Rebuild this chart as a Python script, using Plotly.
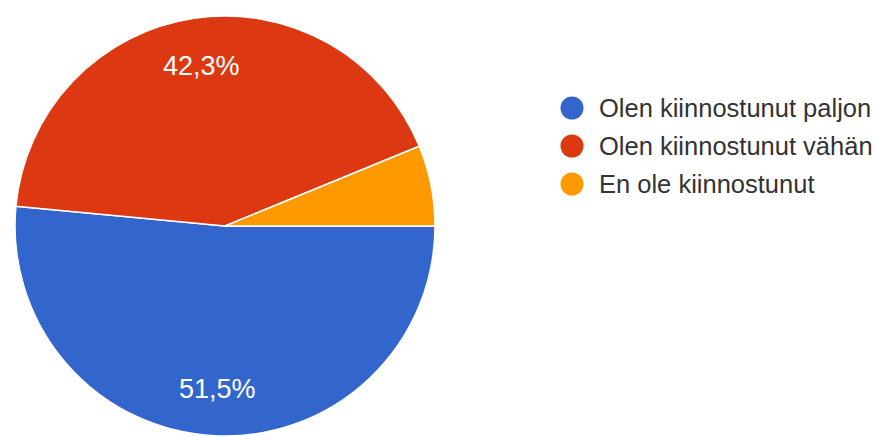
import math
import plotly.graph_objects as go

# Survey answers and their shares (%)
labels = ["Olen kiinnostunut paljon", "Olen kiinnostunut vähän", "En ole kiinnostunut"]
values = [51.5, 42.3, 6.2]
colors = ["#3366CC", "#DC3912", "#FF9900"]
# Slices below this share carry no percentage label
label_min_share = 0.10

W, H = 875, 436
FONT = "Arial, Liberation Sans, sans-serif"

# Pie placement in pixels (centre and radius)
cx, cy, r = 225, 227, 211
start_deg = 90  # first slice starts at 3 o'clock, running clockwise

fig = go.Figure()
fig.add_trace(go.Pie(
    labels=labels,
    values=values,
    sort=False,
    direction="clockwise",
    rotation=start_deg,
    marker=dict(colors=colors, line=dict(color="#FFFFFF", width=1.5)),
    textinfo="none",
    showlegend=False,
    hoverinfo="label+percent",
    domain=dict(
        x=[(cx - r) / W, (cx + r) / W],
        y=[max(0.0, (H - cy - r) / H), (H - cy + r) / H],
    ),
))

annotations, shapes = [], []

# Percentage labels placed along each slice's mid-angle
total = sum(values)
cum = 0.0
for v in values:
    share = v / total
    mid = (cum + share / 2) * 360.0  # degrees clockwise from 3 o'clock
    cum += share
    if share < label_min_share:
        continue
    rr = 0.77 * r
    px = cx + rr * math.cos(math.radians(mid))
    py = cy + rr * math.sin(math.radians(mid))
    annotations.append(dict(
        text=f"{share * 100:.1f}%".replace(".", ","),
        xref="paper", yref="paper", x=px / W, y=(H - py) / H,
        xanchor="center", yanchor="middle", showarrow=False,
        font=dict(family=FONT, size=27, color="#FFFFFF"),
    ))

# Custom legend: round swatches with labels to the right
leg_x, leg_y0, leg_step, dot_r = 572, 108, 38, 11.5
for i, (lab, col) in enumerate(zip(labels, colors)):
    yc = leg_y0 + i * leg_step
    shapes.append(dict(
        type="circle", xref="paper", yref="paper",
        x0=(leg_x - dot_r) / W, x1=(leg_x + dot_r) / W,
        y0=(H - yc - dot_r) / H, y1=(H - yc + dot_r) / H,
        fillcolor=col, line=dict(width=0),
    ))
    annotations.append(dict(
        text=lab, xref="paper", yref="paper",
        x=(leg_x + 25) / W, y=(H - yc) / H,
        xanchor="left", yanchor="middle", showarrow=False,
        font=dict(family=FONT, size=25.5, color="#333333"),
    ))

fig.update_layout(
    width=W, height=H,
    margin=dict(l=0, r=0, t=0, b=0),
    paper_bgcolor="#FFFFFF",
    plot_bgcolor="#FFFFFF",
    shapes=shapes,
    annotations=annotations,
)

fig.write_html("out.html")
